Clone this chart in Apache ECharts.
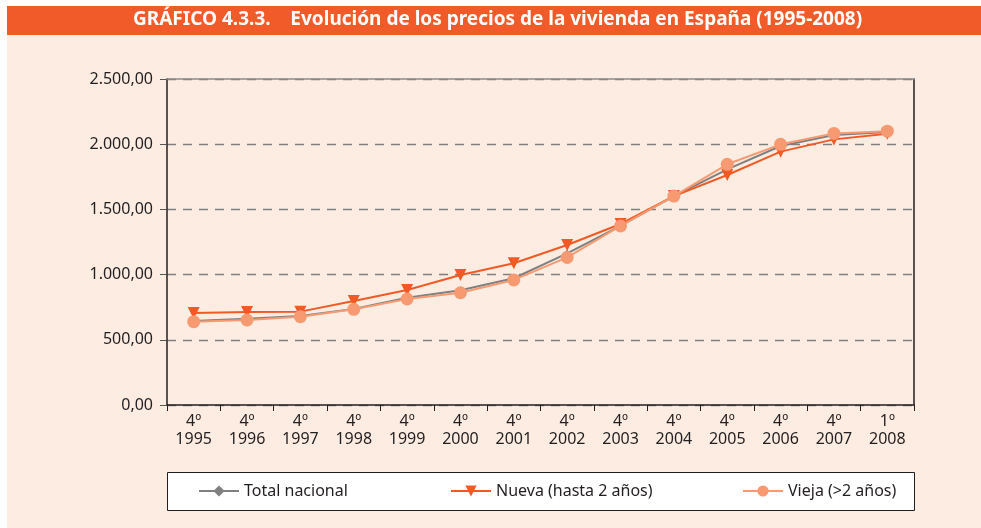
<!DOCTYPE html>
<html>
<head>
<meta charset="utf-8">
<script src="https://cdn.jsdelivr.net/npm/echarts@6/dist/echarts.min.js"></script>
<style>
  html, body { margin: 0; padding: 0; background: #ffffff; }
  #main { width: 981px; height: 528px; }
</style>
</head>
<body>
<div id="main"></div>
<script>
// datos (euros/m2)
const years = ['1995', '1996', '1997', '1998', '1999', '2000', '2001', '2002', '2003', '2004', '2005', '2006', '2007', '2008'];
const quarters = ['4º', '4º', '4º', '4º', '4º', '4º', '4º', '4º', '4º', '4º', '4º', '4º', '4º', '1º'];
const totalNacional = [645, 662, 683, 736, 823, 880, 972, 1163, 1373, 1602, 1807, 1986, 2071, 2094];
const nueva = [706, 713, 716, 797, 882, 997, 1087, 1227, 1388, 1602, 1764, 1943, 2037, 2080];
const vieja = [639, 652, 677, 734, 813, 861, 959, 1132, 1373, 1602, 1846, 1999, 2083, 2100];

const categories = years.map((y, i) => quarters[i] + '\n' + y);

const txt = '#231f20';
const font = '"Noto Sans", "Open Sans", sans-serif';

function fmt(v) {
    const s = String(Math.round(v)).replace(/\B(?=(\d{3})+(?!\d))/g, '.');
    return s + ',00';
}

const chart = echarts.init(document.getElementById('main'));

const legendBase = {
    top: 478,
    itemWidth: 40,
    itemHeight: 14,
    textStyle: { color: txt, fontSize: 16, fontFamily: font },
    selectedMode: false
};

const option = {
    animation: false,
    textStyle: { fontFamily: font },
    graphic: [
        { type: 'rect', z: -10, shape: { x: 7, y: 35, width: 974, height: 493 }, style: { fill: '#fdece2' } },
        { type: 'rect', z: -10, shape: { x: 7, y: 6, width: 974, height: 29 }, style: { fill: '#f15a29' } },
        {
            type: 'text', z: 10, left: 133, top: 10,
            style: {
                text: 'GRÁFICO 4.3.3.    Evolución de los precios de la vivienda en España (1995-2008)',
                fill: '#ffffff', font: 'bold 19px ' + font
            }
        },
        { type: 'rect', z: 1, shape: { x: 167.5, y: 472.5, width: 747, height: 38 }, style: { fill: '#ffffff', stroke: txt, lineWidth: 1 } }
    ],
    legend: [
        Object.assign({ left: 193, data: ['Total nacional'] }, legendBase),
        Object.assign({ left: 445, data: ['Nueva (hasta 2 años)'] }, legendBase),
        Object.assign({ left: 737, data: ['Vieja (>2 años)'] }, legendBase)
    ],
    grid: { left: 167, right: 67, top: 79, bottom: 123 },
    xAxis: [{
        type: 'category',
        data: categories,
        boundaryGap: true,
        axisLine: { lineStyle: { color: txt, width: 1.5 } },
        axisTick: { show: true, length: 6, lineStyle: { color: txt } },
        axisLabel: { color: txt, fontSize: 16, lineHeight: 18, margin: 7, interval: 0, fontFamily: font }
    }, {
        type: 'category',
        position: 'top',
        data: categories,
        z: 5,
        axisLine: { onZero: false, lineStyle: { color: '#8a8a8a', width: 1.5 } },
        axisTick: { show: false },
        axisLabel: { show: false }
    }],
    yAxis: [{
        type: 'value',
        min: 0,
        max: 2500,
        interval: 500,
        axisLine: { show: true, lineStyle: { color: txt, width: 1.5 } },
        axisTick: { show: true, length: 7, lineStyle: { color: '#555' } },
        axisLabel: { color: txt, fontSize: 16, margin: 14, formatter: fmt, fontFamily: font },
        splitLine: { show: true, lineStyle: { color: '#7f7f7f', type: [9, 7], width: 1.3 } }
    }, {
        type: 'value',
        position: 'right',
        min: 0,
        max: 2500,
        interval: 500,
        z: 5,
        axisLine: { show: true, onZero: false, lineStyle: { color: txt, width: 1.5 } },
        axisTick: { show: false },
        axisLabel: { show: false },
        splitLine: { show: false }
    }],
    series: [{
        name: 'Total nacional',
        type: 'line',
        data: totalNacional,
        symbol: 'diamond',
        symbolSize: 7,
        lineStyle: { color: '#808080', width: 2 },
        itemStyle: { color: '#808080' },
        z: 2
    }, {
        name: 'Nueva (hasta 2 años)',
        type: 'line',
        data: nueva,
        symbol: 'triangle',
        symbolRotate: 180,
        symbolSize: 12,
        lineStyle: { color: '#f15a24', width: 2 },
        itemStyle: { color: '#f15a24' },
        z: 3
    }, {
        name: 'Vieja (>2 años)',
        type: 'line',
        data: vieja,
        symbol: 'circle',
        symbolSize: 13,
        lineStyle: { color: '#f79a72', width: 2 },
        itemStyle: { color: '#f79a72' },
        z: 4
    }]
};

chart.setOption(option);
</script>
</body>
</html>
